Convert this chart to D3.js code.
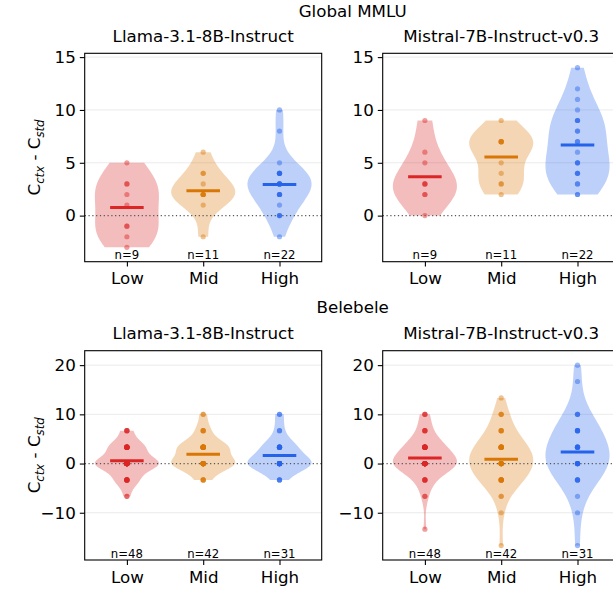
<!DOCTYPE html>
<html>
<head>
<meta charset="utf-8">
<script src="https://cdn.jsdelivr.net/npm/d3@7"></script>
<style>
  body { margin: 0; background: #fff; }
  svg { display: block; font-family: "DejaVu Sans", sans-serif; }
</style>
</head>
<body>
<script>
// categories and colours
const categories = ["Low", "Mid", "High"];
const colors = ["#dc2626", "#d97706", "#2563eb"];
const models = ["Llama-3.1-8B-Instruct", "Mistral-7B-Instruct-v0.3"];
const benchmarks = ["Global MMLU", "Belebele"];

// Global MMLU: raw per-language differences
const mmluLlamaLow = [5, 3, 3, 2, 1, -1, -1, -2, -3];
const mmluLlamaMid = [6, 4, 4, 3, 2, 2, 2, 2, 2, 1, -2];
const mmluLlamaHigh = [10, 8, 5, 4, 4, 4, 4, 4, 3, 3, 3, 3, 3, 2, 2, 2, 2, 1, 0, 0, 0, -2];
const mmluMistralLow = [9, 6, 5, 3, 3, 3, 2, 2, 0];
const mmluMistralMid = [9, 7, 7, 7, 7, 7, 5, 4, 3, 3, 2];
const mmluMistralHigh = [14, 12, 11, 10, 9, 9, 9, 8, 8, 7, 7, 6, 5, 5, 5, 4, 4, 4, 3, 3, 2, 2];

// Belebele: value levels and how many languages sit at each
const beleLlamaLowLevels = [-6.67, -3.33, 0, 3.33, 6.67];
const beleLlamaLowCounts = [2, 8, 22, 12, 4];
const beleLlamaMidLevels = [-3.33, 0, 3.33, 6.67, 10];
const beleLlamaMidCounts = [4, 18, 14, 4, 2];
const beleLlamaHighLevels = [-3.33, 0, 3.33, 6.67, 10];
const beleLlamaHighCounts = [3, 16, 8, 2, 2];
const beleMistralLowLevels = [-13.33, -6.67, -3.33, 0, 3.33, 6.67, 10];
const beleMistralLowCounts = [1, 2, 5, 21, 12, 4, 3];
const beleMistralMidLevels = [-16.67, -10, -6.67, -3.33, 0, 3.33, 6.67, 10, 13.33];
const beleMistralMidCounts = [1, 1, 2, 8, 12, 10, 4, 3, 1];
const beleMistralHighLevels = [-16.67, -10, -6.67, -3.33, 0, 3.33, 6.67, 10, 16.67, 20];
const beleMistralHighCounts = [1, 1, 1, 4, 8, 6, 5, 3, 1, 1];

const yTicks = [[0, 5, 10, 15], [-10, 0, 10, 20]];

const expand = (levels, counts) => levels.flatMap((v, i) => d3.range(counts[i]).map(() => v));

const panels = [
  [[mmluLlamaLow, mmluLlamaMid, mmluLlamaHigh],
   [mmluMistralLow, mmluMistralMid, mmluMistralHigh]],
  [[expand(beleLlamaLowLevels, beleLlamaLowCounts),
    expand(beleLlamaMidLevels, beleLlamaMidCounts),
    expand(beleLlamaHighLevels, beleLlamaHighCounts)],
   [expand(beleMistralLowLevels, beleMistralLowCounts),
    expand(beleMistralMidLevels, beleMistralMidCounts),
    expand(beleMistralHighLevels, beleMistralHighCounts)]]
];

// layout
const W = 613, H = 589;
const rowsY = [[53.3, 261.7], [350.7, 560]];
const colsX = [[84.7, 321.7], [382.7, 619.7]];
const FS = 16.7;

const svg = d3.select("body").append("svg")
  .attr("width", W)
  .attr("height", H);

// gaussian kde, scott bandwidth, evaluated between min and max
function kde(vals) {
  const bw = d3.deviation(vals) * Math.pow(vals.length, -0.2);
  const lo = d3.min(vals), hi = d3.max(vals);
  const pts = d3.range(100).map(k => lo + (hi - lo) * k / 99);
  const dens = pts.map(v => d3.mean(vals, x => Math.exp(-0.5 * ((v - x) / bw) ** 2)));
  const mx = d3.max(dens);
  return pts.map((v, k) => ({ v: v, w: dens[k] / mx * 0.42 }));
}

panels.forEach((row, r) => {
  const all = row.flat(2);
  const lo = d3.min(all), hi = d3.max(all), pad = (hi - lo) * 0.08;
  const y = d3.scaleLinear().domain([lo - pad, hi + pad]).range([rowsY[r][1], rowsY[r][0]]);

  // row title
  svg.append("text")
    .attr("x", 352.7).attr("y", r === 0 ? 17 : 313.3)
    .attr("text-anchor", "middle").attr("font-size", FS)
    .text(benchmarks[r]);

  row.forEach((groups, c) => {
    const x = d3.scaleLinear().domain([-0.553, 2.553]).range(colsX[c]);
    const g = svg.append("g");

    // grid
    g.selectAll(".grid").data(yTicks[r].filter(t => t !== 0)).enter()
      .append("line")
      .attr("x1", colsX[c][0]).attr("x2", colsX[c][1])
      .attr("y1", d => y(d)).attr("y2", d => y(d))
      .attr("stroke", "#ebebeb").attr("stroke-width", 1);

    // violins
    groups.forEach((vals, i) => {
      const area = d3.area()
        .y(d => y(d.v))
        .x0(d => x(i - d.w))
        .x1(d => x(i + d.w))
        .curve(d3.curveLinear);
      g.append("path")
        .datum(kde(vals))
        .attr("d", area)
        .attr("fill", colors[i])
        .attr("fill-opacity", 0.3);
    });

    // zero line
    g.append("line")
      .attr("x1", colsX[c][0]).attr("x2", colsX[c][1])
      .attr("y1", y(0)).attr("y2", y(0))
      .attr("stroke", "#555").attr("stroke-width", 1.2)
      .attr("stroke-dasharray", "1.2,2.6");

    groups.forEach((vals, i) => {
      g.selectAll(".pt" + i).data(vals).enter()
        .append("circle")
        .attr("cx", x(i)).attr("cy", d => y(d))
        .attr("r", 2.6)
        .attr("fill", colors[i])
        .attr("fill-opacity", 0.45);

      const m = d3.mean(vals);
      g.append("line")
        .attr("x1", x(i - 0.22)).attr("x2", x(i + 0.22))
        .attr("y1", y(m)).attr("y2", y(m))
        .attr("stroke", colors[i]).attr("stroke-width", 3);

      g.append("text")
        .attr("x", x(i)).attr("y", rowsY[r][1] - 2.4)
        .attr("text-anchor", "middle").attr("font-size", 11.7)
        .text("n=" + vals.length);
    });

    // frame
    g.append("rect")
      .attr("x", colsX[c][0]).attr("y", rowsY[r][0])
      .attr("width", colsX[c][1] - colsX[c][0])
      .attr("height", rowsY[r][1] - rowsY[r][0])
      .attr("fill", "none").attr("stroke", "#000").attr("stroke-width", 1.1);

    // y axis
    const ya = g.append("g")
      .attr("transform", `translate(${colsX[c][0]},0)`)
      .call(d3.axisLeft(y).tickValues(yTicks[r]).tickSize(4.9).tickPadding(4));
    ya.select(".domain").remove();
    ya.selectAll("text").attr("font-size", FS).attr("font-family", "DejaVu Sans").attr("fill", "#000");
    ya.selectAll("line").attr("stroke-width", 1.1);

    // x axis
    const xa = g.append("g")
      .attr("transform", `translate(0,${rowsY[r][1]})`)
      .call(d3.axisBottom(x).tickValues([0, 1, 2]).tickFormat(i => categories[i]).tickSize(4.9).tickPadding(6));
    xa.select(".domain").remove();
    xa.selectAll("text").attr("font-size", FS).attr("font-family", "DejaVu Sans").attr("fill", "#000");
    xa.selectAll("line").attr("stroke-width", 1.1);

    // subplot title
    g.append("text")
      .attr("x", (colsX[c][0] + colsX[c][1]) / 2)
      .attr("y", rowsY[r][0] - 11.6)
      .attr("text-anchor", "middle").attr("font-size", FS)
      .text(models[c]);

    // y label on left column
    if (c === 0) {
      const cy = (rowsY[r][0] + rowsY[r][1]) / 2;
      const t = g.append("text")
        .attr("transform", `translate(40,${cy}) rotate(-90)`)
        .attr("text-anchor", "middle").attr("font-size", FS);
      t.append("tspan").text("C");
      t.append("tspan").attr("font-size", 11.7).attr("font-style", "italic").attr("dy", 3.5).text("ctx");
      t.append("tspan").attr("dy", -3.5).text(" - C");
      t.append("tspan").attr("font-size", 11.7).attr("font-style", "italic").attr("dy", 3.5).text("std");
    }
  });
});
</script>
</body>
</html>
